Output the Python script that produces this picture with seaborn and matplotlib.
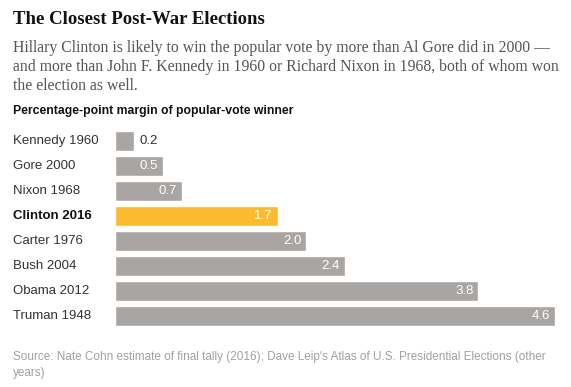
import matplotlib
matplotlib.use("Agg")
import matplotlib.pyplot as plt
import matplotlib.transforms as mtransforms
import pandas as pd
import seaborn as sns

# data
candidates = ["Kennedy 1960", "Gore 2000", "Nixon 1968", "Clinton 2016",
              "Carter 1976", "Bush 2004", "Obama 2012", "Truman 1948"]
margins = [0.2, 0.5, 0.7, 1.7, 2.0, 2.4, 3.8, 4.6]
highlight = "Clinton 2016"

GRAY = "#a9a5a2"
YELLOW = "#fcbb2d"

W, H = 571, 387
sns.set_theme(style="white")
plt.rcParams["font.family"] = ["Liberation Sans", "DejaVu Sans"]

df = pd.DataFrame({"candidate": candidates, "margin": margins})
palette = {c: (YELLOW if c == highlight else GRAY) for c in candidates}

fig = plt.figure(figsize=(W / 100, H / 100), dpi=100)
ax = fig.add_axes([115 / W, 1 - 328.5 / H, 440 / W, 200 / H])

sns.barplot(data=df, x="margin", y="candidate", hue="candidate", palette=palette,
            order=candidates, legend=False, width=0.8, saturation=1, ax=ax)
ax.set_xlim(0, 4.6)
ax.set_ylim(7.5, -0.5)
ax.set_axis_off()

label_tf = mtransforms.blended_transform_factory(fig.transFigure, ax.transData)
px = mtransforms.ScaledTranslation(5 / 100, 0, fig.dpi_scale_trans)
for i, (name, val) in enumerate(zip(candidates, margins)):
    bold = name == highlight
    ax.text(13 / W, i, name, transform=label_tf, ha="left", va="center",
            fontsize=9.5, color="#111111" if bold else "#333333",
            fontweight="bold" if bold else "normal")
    if val < 0.4:
        ax.text(val, i, f"{val:.1f}", ha="left", va="center", fontsize=9.5,
                color="#333333", transform=ax.transData + px)
    else:
        ax.text(val, i, f"{val:.1f}", ha="right", va="center", fontsize=9.5,
                color="white", transform=ax.transData - px)

# header text
fig.text(13 / W, 1 - 19 / H, "The Closest Post-War Elections", fontsize=13.5,
         fontweight="bold", family=["Liberation Serif", "DejaVu Serif"],
         color="#121212", va="center")
sub = ("Hillary Clinton is likely to win the popular vote by more than Al Gore did in 2000 \u2014\n"
       "and more than John F. Kennedy in 1960 or Richard Nixon in 1968, both of whom won\n"
       "the election as well.")
fig.text(13 / W, 1 - 40 / H, sub, fontsize=11.3, family=["Liberation Serif", "DejaVu Serif"],
         color="#555555", va="top", linespacing=1.24)
fig.text(13 / W, 1 - 111 / H, "Percentage-point margin of popular-vote winner",
         fontsize=8.8, fontweight="bold", color="#111111", va="center")

src = ("Source: Nate Cohn estimate of final tally (2016); Dave Leip's Atlas of U.S. Presidential Elections (other\n"
       "years)")
fig.text(13 / W, 1 - 351 / H, src, fontsize=8.5, color="#a0a0a0", va="top", linespacing=1.45)

fig.savefig("out.png", dpi=100)
